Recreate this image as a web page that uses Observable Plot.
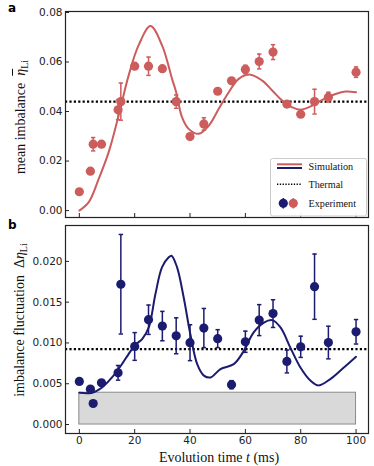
<!DOCTYPE html>
<html><head><meta charset="utf-8">
<script src="https://cdn.jsdelivr.net/npm/d3@7"></script>
<script src="https://cdn.jsdelivr.net/npm/@observablehq/plot@0.6"></script>
<style>
body{margin:0;background:#fff;}
#wrap{position:relative;width:374px;height:466px;overflow:hidden;background:#fff;font-family:"Liberation Serif","Times New Roman","DejaVu Serif",serif;color:#111;}
.abs{position:absolute;}
.ylab{position:absolute;white-space:nowrap;font-size:14px;line-height:14px;transform:translate(-50%,-50%) rotate(-90deg);}
.ylab sub{font-size:10px;font-style:normal;vertical-align:-3px;line-height:0;}
.ov{text-decoration:overline;}
</style></head><body>
<div id="wrap">
  <div id="pa" class="abs" style="left:0;top:0"></div>
  <div id="pb" class="abs" style="left:0;top:222px"></div>
  <div class="ylab" style="left:21px;top:117px">mean imbalance&nbsp;&nbsp;<i class="ov">η</i><sub>Li</sub></div>
  <div class="ylab" style="left:20px;top:320px">imbalance fluctuation&nbsp;&nbsp;Δ<i>η</i><sub>Li</sub></div>
  <div class="abs" style="left:219px;top:451px;transform:translateX(-50%);white-space:nowrap;font-size:14px;line-height:14px;">Evolution time <i>t</i> (ms)</div>
  <svg id="ov" class="abs" width="374" height="466" style="left:0;top:0;pointer-events:none"></svg>
</div>
<script>
// ---- data ----
const times   = [0, 4, 5, 8, 14, 15, 20, 25, 30, 35, 40, 45, 50, 55, 60, 65, 70, 75, 80, 85, 90, 100];
const meanImb = [0.0076, 0.0159, 0.0268, 0.0268, 0.0407, 0.044, 0.0583, 0.0583, 0.0573, 0.044, 0.0299, 0.035, 0.0482, 0.0524, 0.057, 0.0602, 0.064, 0.043, 0.0389, 0.044, 0.0458, 0.0559];
const meanErr = [0.001, 0.001, 0.0027, 0.001, 0.004, 0.0075, 0.001, 0.0037, 0.001, 0.0027, 0.001, 0.0025, 0.001, 0.001, 0.0017, 0.003, 0.003, 0.001, 0.001, 0.005, 0.002, 0.0021];
const flucImb = [0.00528, 0.00434, 0.00258, 0.00512, 0.00634, 0.0172, 0.00957, 0.01285, 0.01207, 0.01088, 0.01003, 0.01183, 0.01053, 0.00488, 0.01015, 0.0128, 0.0136, 0.00773, 0.00953, 0.0169, 0.01005, 0.01137];
const flucErr = [0.0003, 0.0003, 0.0003, 0.0003, 0.0009, 0.0061, 0.0017, 0.0018, 0.0018, 0.0022, 0.0022, 0.0024, 0.0011, 0.0005, 0.0013, 0.0019, 0.0017, 0.0014, 0.0013, 0.004, 0.002, 0.0015];
const simTimeA = [0, 3.4, 7, 10.6, 14.2, 17.8, 21.4, 25.7, 29.9, 33.5, 35, 37.1, 39.5, 43.1, 46.8, 50.4, 54, 57.6, 61.8, 66.1, 69.7, 73.3, 76.9, 79.9, 84.2, 87.8, 92.6, 96.2, 100];
const simMean  = [0, 0.0034, 0.0128, 0.0236, 0.0384, 0.0545, 0.0667, 0.0745, 0.0667, 0.0532, 0.0478, 0.0377, 0.033, 0.031, 0.0343, 0.0411, 0.0478, 0.0532, 0.0549, 0.0525, 0.0485, 0.0444, 0.0417, 0.0407, 0.0424, 0.0447, 0.0471, 0.0481, 0.0478];
const simTimeB = [0, 4.6, 8.2, 11.8, 15.4, 17.8, 20.3, 22.7, 25.1, 27.5, 29.9, 32.3, 33.3, 35.3, 37.7, 40.1, 42.6, 45, 47.4, 51, 55.8, 59.4, 63, 66.7, 69.7, 72.7, 76.3, 79.9, 83.5, 86.5, 90.8, 95.6, 100];
const simFluc  = [0.0039, 0.0039, 0.00454, 0.00577, 0.0074, 0.00864, 0.00978, 0.01048, 0.0119, 0.016, 0.0193, 0.0205, 0.0207, 0.0193, 0.0156, 0.0111, 0.0074, 0.006, 0.00577, 0.0068, 0.0074, 0.009, 0.0113, 0.0125, 0.0128, 0.0119, 0.0094, 0.007, 0.0054, 0.0048, 0.0056, 0.007, 0.0083];
const thermalMean = [0.044];
const thermalFluc = [0.00925];
const bandTimes = [0, 100];
const bandLevels = [0, 0.0039];
const xTicks  = [0, 20, 40, 60, 80, 100];
const yTicksA = [0, 0.02, 0.04, 0.06, 0.08];
const yTicksB = [0, 0.005, 0.01, 0.015, 0.02];
const legendLabels = ["Simulation", "Thermal", "Experiment"];

// ---- styles ----
const serif = "'Liberation Serif','Times New Roman','DejaVu Serif',serif";
const red = "#cd5c5c", blue = "#1b1b6f";
const capSymbol = {draw(ctx, size){ const w = Math.sqrt(size / Math.PI); ctx.moveTo(-w, 0); ctx.lineTo(w, 0); }};
const rows = (v, e) => times.map((t, i) => ({t, v: v[i], lo: v[i] - e[i], hi: v[i] + e[i]}));
const expA = rows(meanImb, meanErr);
const expB = rows(flucImb, flucErr);
const simA = simTimeA.map((t, i) => ({t, v: simMean[i]}));
const simB = simTimeB.map((t, i) => ({t, v: simFluc[i]}));

function expMarks(data, color){
  return [
    Plot.ruleX(data, {x: "t", y1: "lo", y2: "hi", stroke: color, strokeWidth: 1.5}),
    Plot.dot(data, {x: "t", y: "lo", symbol: capSymbol, r: 2.2, stroke: color, fill: "none", strokeWidth: 1.5}),
    Plot.dot(data, {x: "t", y: "hi", symbol: capSymbol, r: 2.2, stroke: color, fill: "none", strokeWidth: 1.5}),
    Plot.dot(data, {x: "t", y: "v", r: 4.6, fill: color, stroke: "none"})
  ];
}
const common = {
  width: 374, marginLeft: 65, marginRight: 6,
  x: {domain: [-5, 104.5], label: null},
  style: {fontFamily: "DejaVu Sans", fontSize: "10.5px", color: "#222", background: "transparent"}
};

const chartA = Plot.plot({
  ...common, height: 222, marginTop: 11, marginBottom: 5,
  y: {domain: [-0.0028, 0.0804], label: null},
  marks: [
    Plot.ruleY(thermalMean, {stroke: "#000", strokeWidth: 2.2, strokeDasharray: "2.2,2.2"}),
    Plot.line(simA, {x: "t", y: "v", stroke: red, strokeWidth: 2, curve: "catmull-rom"}),
    ...expMarks(expA, red),
    Plot.axisY(yTicksA, {tickSize: -4, tickPadding: 7, tickFormat: d3.format(".2f"), label: null}),
    Plot.axisX(xTicks, {tickSize: -4, tickFormat: () => "", label: null}),
    Plot.frame({stroke: "#222", strokeWidth: 1.2})
  ]
});
document.getElementById("pa").append(chartA);

const chartB = Plot.plot({
  ...common, height: 244, marginTop: 3, marginBottom: 33,
  y: {domain: [-0.0011, 0.0244], label: null},
  marks: [
    Plot.rect([{x1: bandTimes[0], x2: bandTimes[1], y1: bandLevels[0], y2: bandLevels[1]}],
      {x1: "x1", x2: "x2", y1: "y1", y2: "y2", fill: "#d9d9d9", stroke: "#8a8a8a", strokeWidth: 1}),
    Plot.ruleY(thermalFluc, {stroke: "#000", strokeWidth: 2.2, strokeDasharray: "2.2,2.2"}),
    Plot.line(simB, {x: "t", y: "v", stroke: blue, strokeWidth: 2, curve: "catmull-rom"}),
    ...expMarks(expB, blue),
    Plot.axisY(yTicksB, {tickSize: -4, tickPadding: 7, tickFormat: d3.format(".3f"), label: null}),
    Plot.axisX(xTicks, {tickSize: -4, tickPadding: 7, tickFormat: d3.format("d"), label: null}),
    Plot.frame({stroke: "#222", strokeWidth: 1.2})
  ]
});
document.getElementById("pb").append(chartB);

// ---- overlay: panel letters and legend ----
const ov = d3.select("#ov");
ov.append("text").attr("x", 8).attr("y", 12).attr("font-family", "DejaVu Sans").attr("font-weight", "bold").attr("font-size", 12).text("a");
ov.append("text").attr("x", 8).attr("y", 229).attr("font-family", "DejaVu Sans").attr("font-weight", "bold").attr("font-size", 12).text("b");
const lg = ov.append("g").attr("transform", "translate(270,158)");
lg.append("rect").attr("x", 0.5).attr("y", 0.5).attr("width", 96).attr("height", 57.5).attr("rx", 2)
  .attr("fill", "#fff").attr("fill-opacity", 0.9).attr("stroke", "#cccccc").attr("stroke-width", 1);
lg.append("line").attr("x1", 7).attr("x2", 32).attr("y1", 6.3).attr("y2", 6.3).attr("stroke", red).attr("stroke-width", 2);
lg.append("line").attr("x1", 7).attr("x2", 32).attr("y1", 10).attr("y2", 10).attr("stroke", blue).attr("stroke-width", 2);
lg.append("line").attr("x1", 7).attr("x2", 32).attr("y1", 26.3).attr("y2", 26.3).attr("stroke", "#000").attr("stroke-width", 1.4).attr("stroke-dasharray", "1.3,1.5");
[[13.3, blue], [23.3, red]].forEach(([cx, c]) => {
  lg.append("line").attr("x1", cx).attr("x2", cx).attr("y1", 40).attr("y2", 50.5).attr("stroke", c).attr("stroke-width", 1.5);
  lg.append("circle").attr("cx", cx).attr("cy", 45.3).attr("r", 4.6).attr("fill", c);
});
[11.5, 30, 49].forEach((y, i) => {
  lg.append("text").attr("x", 38.5).attr("y", y).style("font-family", serif).attr("font-size", 10.2).attr("fill", "#111").text(legendLabels[i]);
});
</script>
</body></html>
